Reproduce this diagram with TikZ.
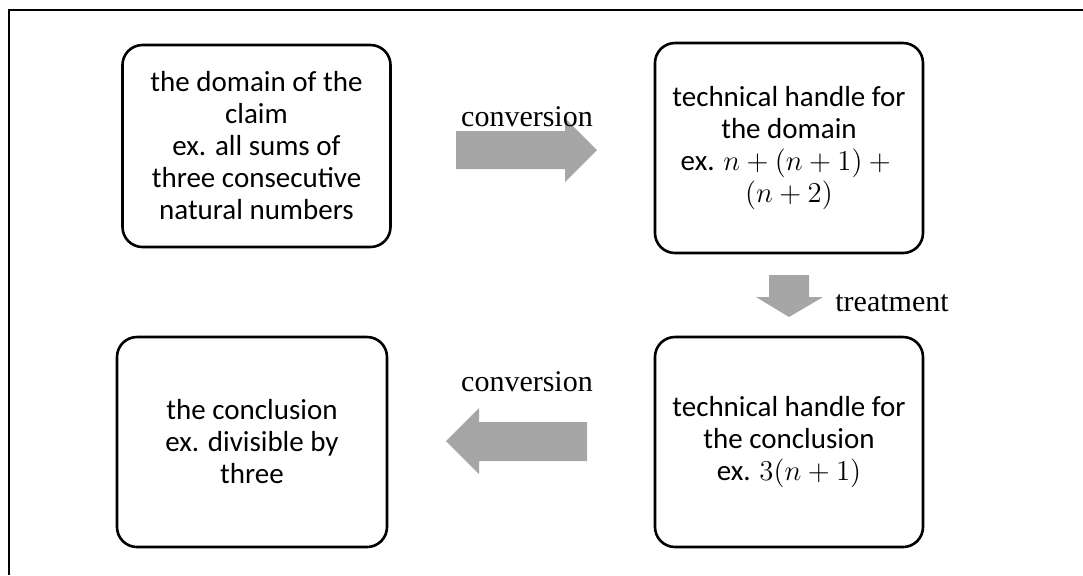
\documentclass[tikz,border=0pt]{standalone}
\usepackage[no-math]{fontspec}
\usepackage{amsmath}
\setmainfont{Carlito}
\newfontfamily\timesfont{Liberation Serif}
\definecolor{arrowgray}{RGB}{166,166,166}

\begin{document}
\begin{tikzpicture}[x=0.5pt,y=-0.5pt]
		\tikzstyle{every node}+=[inner sep=0pt]
		\tikzstyle{card}=[draw=black, line width=1.3pt, rounded corners=10pt, minimum width=134pt, minimum height=105pt, align=center, font=\fontsize{14.5}{16}\selectfont]
		\tikzstyle{verb}=[font=\timesfont\fontsize{15}{18}\selectfont]
		\useasboundingbox (0,0) rectangle (1083,575);
		\draw [black, line width=1pt] (9,575) -- (9,10) -- (1083,10);
		\node [card, minimum height=101pt] (domain) at (256.5,146) {the domain of the\\claim\\ex. all sums of\\three consecutive\\natural numbers};
		\node [card] (handledom) at (789,148) {technical handle for\\the domain\\ex. $n+(n+1)+{}$\\$(n+2)$};
		\node [card] (handleconc) at (789,442) {technical handle for\\the conclusion\\ex. $3(n+1)$};
		\node [card, minimum width=135pt] (conclusion) at (252,442) {the conclusion\\ex. divisible by\\three};
		\fill [arrowgray] (456,131) -- (565,131) -- (565,118) -- (597,150) -- (565,182) -- (565,169) -- (456,169) -- cycle;
		\node [verb] (convtop) at (527,117) {conversion};
		\fill [arrowgray] (769,275) -- (809,275) -- (809,297) -- (823,297) -- (789,317) -- (756,297) -- (769,297) -- cycle;
		\node [verb, anchor=west] (treat) at (835,303) {treatment};
		\fill [arrowgray] (587,422) -- (479,422) -- (479,408) -- (446,441) -- (479,474) -- (479,461) -- (587,461) -- cycle;
		\node [verb] (convbot) at (527,382) {conversion};
\end{tikzpicture}
\end{document}
